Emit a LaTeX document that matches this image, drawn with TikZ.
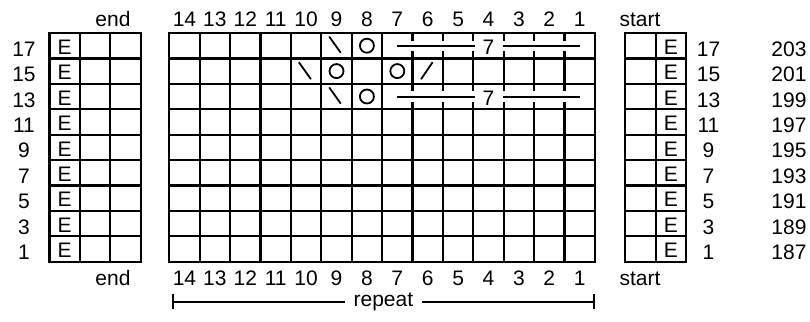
\documentclass[tikz,border=0pt]{standalone}
\usepackage{fontspec}
\setmainfont{Liberation Sans}
\usetikzlibrary{arrows.meta}

\begin{document}
\begin{tikzpicture}[x=1pt,y=-1pt,
        gridline/.style={line width=2.2pt,line cap=rect},
        symline/.style={line width=1.8pt},
        cableline/.style={line width=2pt},
        lbl/.style={font=\fontsize{21}{21}\selectfont,inner sep=0pt,anchor=base}
    ]
        \useasboundingbox (0,0) rectangle (810,321);

        % left edge chart (end)
        \begin{scope}[shift={(49.5,33)},x=30.4pt,y=-25.4pt]
            \foreach \i in {0,...,3} \draw[gridline] (\i,0) -- (\i,9);
            \foreach \j in {0,...,9} \draw[gridline] (0,\j) -- (3,\j);
            \foreach \k in {0,...,8} \node[lbl] (endE\k) at (0.5,\k+0.85) {E};
        \end{scope}

        % right edge chart (start)
        \begin{scope}[shift={(625,33)},x=30.6pt,y=-25.4pt]
            \foreach \i in {0,...,2} \draw[gridline] (\i,0) -- (\i,9);
            \foreach \j in {0,...,9} \draw[gridline] (0,\j) -- (2,\j);
            \foreach \k in {0,...,8} \node[lbl] (startE\k) at (1.5,\k+0.85) {E};
        \end{scope}

        % repeat chart
        \begin{scope}[shift={(169.3,33)},x=30.4pt,y=-25.4pt]
            \foreach \i in {0,...,14} \draw[gridline] (\i,0) -- (\i,9);
            \foreach \j in {0,...,9} \draw[gridline] (0,\j) -- (14,\j);
            % cable crossings on rows 17 and 13
            \foreach \k in {0,2} {
                \fill[white] (7.045,\k+0.3) rectangle (13.955,\k+0.7);
                \draw[cableline] (7.5,\k+0.5) -- (10.06,\k+0.5);
                \draw[cableline] (10.97,\k+0.5) -- (13.5,\k+0.5);
                \node[lbl] (cable\k) at (10.5,\k+0.85) {7};
                \draw[symline] (5.26,\k+0.14) -- (5.64,\k+0.78);
                \draw[symline] (6.5,\k+0.5) circle[radius=7pt];
            }
            % row 15
            \draw[symline] (4.26,1.15) -- (4.66,1.82);
            \draw[symline] (5.5,1.5) circle[radius=7pt];
            \draw[symline] (7.5,1.5) circle[radius=7pt];
            \draw[symline] (8.28,1.82) -- (8.66,1.15);
        \end{scope}

        % stitch numbers
        \foreach \c in {1,...,14} {
            \node[lbl] (top\c) at ({169.3+(14.5-\c)*30.4},26.7) {\c};
            \node[lbl] (bot\c) at ({169.3+(14.5-\c)*30.4},285) {\c};
        }
        \node[lbl] (endtop) at (113,26.7) {end};
        \node[lbl] (endbot) at (113,285) {end};
        \node[lbl] (starttop) at (640,26.7) {start};
        \node[lbl] (startbot) at (640,285) {start};

        % row numbers
        \foreach \r/\n [count=\k from 0] in {17/203,15/201,13/199,11/197,9/195,7/193,5/191,3/189,1/187} {
            \node[lbl] (rowL\r) at (24,{33+(\k+0.92)*25.4}) {\r};
            \node[lbl] (rowR\r) at (708.5,{33+(\k+0.92)*25.4}) {\r};
            \node[lbl] (total\r) at (789,{33+(\k+0.92)*25.4}) {\n};
        }

        % repeat bracket
        \coordinate (repL) at (171.7,301.7);
        \coordinate (repR) at (595,301.7);
        \draw[line width=2pt,{Bar[width=15pt]}-{Bar[width=15pt]}] (repL) -- node[font=\fontsize{21}{21}\selectfont,fill=white,inner xsep=9pt,inner ysep=0pt] (replbl) {repeat} (repR);
\end{tikzpicture}
\end{document}
